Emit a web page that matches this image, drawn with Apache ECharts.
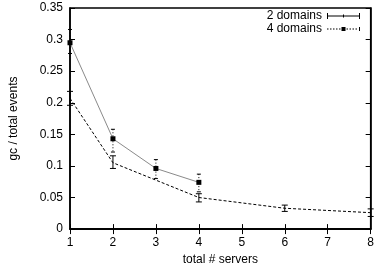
<!DOCTYPE html>
<html>
<head>
<meta charset="utf-8">
<script src="https://cdn.jsdelivr.net/npm/echarts@6/dist/echarts.min.js"></script>
<style>
  html, body { margin: 0; padding: 0; background: #fff; }
  #chart { width: 377px; height: 271px; }
</style>
</head>
<body>
<div id="chart"></div>
<script>
const xTicks = [1, 2, 3, 4, 5, 6, 7, 8];

// 2 domains
const servers2 = [1, 2, 4, 6, 8];
const gc2 = [0.207, 0.105, 0.050, 0.033, 0.026];
const gc2Low = [0.196, 0.096, 0.043, 0.028, 0.020];
const gc2High = [0.218, 0.116, 0.056, 0.038, 0.032];

// 4 domains
const servers4 = [1, 2, 3, 4];
const gc4 = [0.295, 0.143, 0.096, 0.074];
const gc4Low = [0.278, 0.122, 0.080, 0.059];
const gc4High = [0.316, 0.158, 0.110, 0.087];

const font = "Liberation Sans, Arial, Helvetica, sans-serif";
const chart = echarts.init(document.getElementById("chart"));

// legend samples in gnuplot style (errorbar line, dotted line with square)
const iconSolid = "path://M0,4.5h33v1h-33z M0,2h1v6h-1z M32,2h1v6h-1z M16,3.5h1v3h-1z";
const iconDotted = "path://M0,4.5h1.5v1h-1.5z M3,4.5h1.5v1h-1.5z M6,4.5h1.5v1h-1.5z M9,4.5h1.5v1h-1.5z M12,4.5h1.5v1h-1.5z M14.5,3h4v4h-4z M19.5,4.5h1.5v1h-1.5z M22.5,4.5h1.5v1h-1.5z M25.5,4.5h1.5v1h-1.5z M28.5,4.5h1.5v1h-1.5z M32,3h1v4h-1z";

function errorBars(dotted, cap) {
  return function (params, api) {
    const top = api.coord([api.value(0), api.value(2)]);
    const bottom = api.coord([api.value(0), api.value(1)]);
    const style = { stroke: "#000", lineWidth: 1, lineDash: dotted ? [1, 2] : null };
    return {
      type: "group",
      children: [
        { type: "line", shape: { x1: top[0], y1: top[1], x2: bottom[0], y2: bottom[1] }, style },
        { type: "line", shape: { x1: top[0] - cap, y1: top[1], x2: top[0] + cap, y2: top[1] }, style: { stroke: "#000", lineWidth: 1 } },
        { type: "line", shape: { x1: bottom[0] - cap, y1: bottom[1], x2: bottom[0] + cap, y2: bottom[1] }, style: { stroke: "#000", lineWidth: 1 } },
      ],
    };
  };
}

const axisText = { color: "#000", fontFamily: font, fontSize: 12 };

chart.setOption({
  animation: false,
  backgroundColor: "#fff",
  grid: { left: 68, right: 3, top: 8, bottom: 41, show: true, borderColor: "#000", borderWidth: 1.5 },
  legend: {
    orient: "vertical",
    right: 17,
    top: 10,
    padding: 0,
    align: "right",
    itemWidth: 33,
    itemHeight: 10,
    itemGap: 1,
    textStyle: { ...axisText, lineHeight: 12 },
    data: [
      { name: "2 domains", icon: iconSolid },
      { name: "4 domains", icon: iconDotted },
    ],
  },
  xAxis: [
    {
      type: "value",
      min: 1,
      max: 8,
      interval: 1,
      name: "total # servers",
      nameLocation: "middle",
      nameGap: 24,
      nameTextStyle: { ...axisText },
      axisLine: { lineStyle: { color: "#000", width: 1.5 } },
      axisTick: { inside: true, length: 5, lineStyle: { color: "#000" } },
      axisLabel: { ...axisText, margin: 8, formatter: (v) => (xTicks.includes(v) ? String(v) : "") },
      splitLine: { show: false },
    },
    {
      type: "value",
      position: "top",
      min: 1,
      max: 8,
      interval: 1,
      axisLine: { lineStyle: { color: "#000", width: 1.5 } },
      axisTick: { inside: true, length: 5, lineStyle: { color: "#000" } },
      axisLabel: { show: false },
      splitLine: { show: false },
    },
  ],
  yAxis: [
    {
      type: "value",
      min: 0,
      max: 0.35,
      interval: 0.05,
      name: "gc / total events",
      nameLocation: "middle",
      nameGap: 50,
      nameTextStyle: { ...axisText },
      axisLine: { show: true, lineStyle: { color: "#000", width: 1.5 } },
      axisTick: { show: true, inside: true, length: 5, lineStyle: { color: "#000" } },
      axisLabel: { ...axisText, margin: 7 },
      splitLine: { show: false },
    },
    {
      type: "value",
      position: "right",
      min: 0,
      max: 0.35,
      interval: 0.05,
      axisLine: { show: true, lineStyle: { color: "#000", width: 1.5 } },
      axisTick: { show: true, inside: true, length: 5, lineStyle: { color: "#000" } },
      axisLabel: { show: false },
      splitLine: { show: false },
    },
  ],
  series: [
    {
      name: "2 domains",
      type: "line",
      symbol: "none",
      data: servers2.map((x, i) => [x, gc2[i]]),
      lineStyle: { color: "#000", width: 1, type: [3, 2] },
      itemStyle: { color: "#000" },
      z: 3,
    },
    {
      name: "4 domains",
      type: "line",
      symbol: "rect",
      symbolSize: 5,
      data: servers4.map((x, i) => [x, gc4[i]]),
      lineStyle: { color: "#8a8a8a", width: 1 },
      itemStyle: { color: "#000" },
      z: 4,
    },
    {
      name: "2 domains error",
      type: "custom",
      renderItem: errorBars(false, 3),
      data: servers2.map((x, i) => [x, gc2Low[i], gc2High[i]]),
      z: 5,
    },
    {
      name: "4 domains error",
      type: "custom",
      renderItem: errorBars(true, 2),
      data: servers4.map((x, i) => [x, gc4Low[i], gc4High[i]]),
      z: 5,
    },
  ],
});
</script>
</body>
</html>
